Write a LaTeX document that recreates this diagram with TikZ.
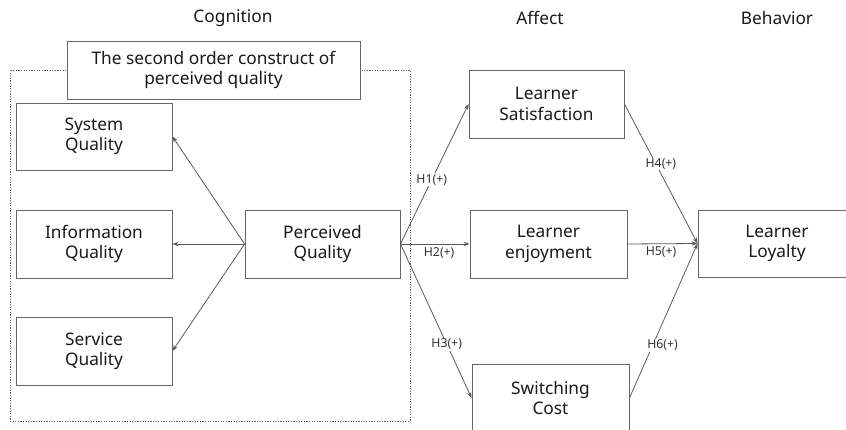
\documentclass[tikz,border=0pt]{standalone}
\usepackage{fontspec}
\setmainfont{Noto Sans}
\usetikzlibrary{arrows.meta}
\begin{document}
\begin{tikzpicture}[x=1pt,y=-1pt,
  box/.style={draw=black!60, line width=0.9pt, fill=white, align=center, inner sep=0pt,
    text=black!90, font=\fontsize{17.3}{20.5}\selectfont},
  head/.style={text=black!90, font=\fontsize{17.3}{20.5}\selectfont},
  link/.style={draw=black!65, line width=0.8pt, -{Stealth[length=6pt,width=4.5pt]}},
  hyp/.style={fill=white, inner sep=1pt, text=black!80, font=\fontsize{12.3}{14}\selectfont}]
\useasboundingbox (0,0) rectangle (846,430);

% column headings
\node[head] (hcog) at (233,18) {Cognition};
\node[head] (haff) at (540,18) {Affect};
\node[head] (hbeh) at (777,18) {Behavior};

% dotted frame around the second order construct
\draw[black!60, line width=0.8pt, dash pattern=on 1.2pt off 1.4pt] (10,70) rectangle (410,421);

% nodes
\node[box, minimum width=293, minimum height=58] (title) at (213.5,70) {The second order construct of\\perceived quality};
\node[box, minimum width=156, minimum height=67] (sysq) at (94,136.5) {System\\Quality};
\node[box, minimum width=156, minimum height=68] (infq) at (94,244) {Information\\Quality};
\node[box, minimum width=156, minimum height=68] (serq) at (94,351) {Service\\Quality};
\node[box, minimum width=155, minimum height=68] (pq) at (322.5,244) {Perceived\\Quality};
\node[box, minimum width=155, minimum height=68] (ls) at (546.5,104) {Learner\\Satisfaction};
\node[box, minimum width=157, minimum height=68] (le) at (548.5,244) {Learner\\enjoyment};
\node[box, minimum width=157, minimum height=68] (sc) at (550.5,398) {Switching\\Cost};
\node[box, minimum width=158, minimum height=67] (ll) at (777,243.5) {Learner\\Loyalty};

% first order dimensions
\draw[link] (pq.west) -- (sysq.east);
\draw[link] (pq.west) -- (infq.east);
\draw[link] (pq.west) -- (serq.east);

% hypotheses
\draw[link] (pq.east) -- node[hyp, pos=0.46] {H1(+)} (ls.west);
\draw[link] (pq.east) -- node[hyp, pos=0.56, below=2pt, fill=none] {H2(+)} (le.west);
\draw[link] (pq.east) -- node[hyp, pos=0.65] {H3(+)} (sc.west);
\draw[link] (ls.east) -- node[hyp, pos=0.43, xshift=5pt] {H4(+)} (ll.west);
\draw[link] (le.east) -- node[hyp, pos=0.48, below=2pt, fill=none] {H5(+)} (ll.west);
\draw[link] (sc.east) -- node[hyp, pos=0.34, xshift=10pt] {H6(+)} (ll.west);
\end{tikzpicture}
\end{document}
